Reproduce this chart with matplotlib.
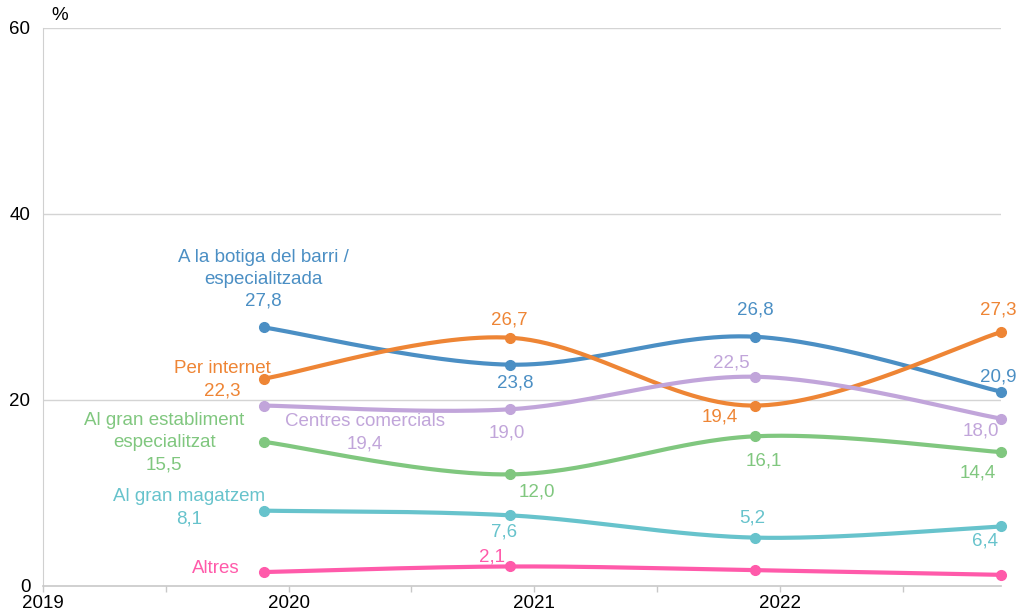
import numpy as np
import matplotlib
matplotlib.use("Agg")
import matplotlib.pyplot as plt

# ---------------- data ----------------
x_years = [2019.9, 2020.9, 2021.9, 2022.9]
tick_years = [2019, 2020, 2021, 2022]
tick_labels = ["2019", "2020", "2021", "2022"]

names = ["A la botiga del barri /\nespecialitzada", "Per internet", "Centres comercials",
         "Al gran establiment\nespecialitzat", "Al gran magatzem", "Altres"]
botiga = [27.8, 23.8, 26.8, 20.9]
internet = [22.3, 26.7, 19.4, 27.3]
centres = [19.4, 19.0, 22.5, 18.0]
establiment = [15.5, 12.0, 16.1, 14.4]
magatzem = [8.1, 7.6, 5.2, 6.4]
altres = [1.5, 2.1, 1.7, 1.2]

colors = ["#4b8fc4", "#ee8535", "#c1a5da", "#80c77f", "#67c3cc", "#ff5aaa"]
series = [botiga, internet, centres, establiment, magatzem, altres]

# which value labels are displayed (Altres only shows its 2021 value)
show_value = [
    [True, True, True, True],
    [True, True, True, True],
    [True, True, True, True],
    [True, True, True, True],
    [True, True, True, True],
    [False, True, False, False],
]
# label offsets in pixels (dx, dy) from each point
offsets = [
    [(-1, 48), (6, -18), (0, 27), (-3, 15)],
    [(-42, -1), (0, 18), (-36, -11), (-3, 22)],
    [(101, -27), (-3, -24), (-24, 14), (-20, -12)],
    [(-100, -1), (27, -18), (8, -25), (-23, -21)],
    [(-75, 3), (-6, -17), (-3, 20), (-16, -15)],
    [(-48, 4), (-18, 9), (0, 0), (0, 0)],
]


def smooth(xs, ys, n=60):
    P = np.column_stack([xs, ys]).astype(float)
    m = len(P)
    out = []
    for i in range(m - 1):
        p0 = P[max(i - 1, 0)]
        p1 = P[i]
        p2 = P[i + 1]
        p3 = P[min(i + 2, m - 1)]
        c1 = p1 + (p2 - p0) / 6.0
        c2 = p2 - (p3 - p1) / 6.0
        t = np.linspace(0, 1, n)[:, None]
        seg = ((1 - t) ** 3) * p1 + 3 * ((1 - t) ** 2) * t * c1 + 3 * (1 - t) * t ** 2 * c2 + t ** 3 * p2
        out.append(seg if i == 0 else seg[1:])
    s = np.vstack(out)
    return s[:, 0], s[:, 1]


def fmt(v):
    return f"{v:.1f}".replace(".", ",")


plt.rcParams["font.family"] = ["Liberation Sans", "DejaVu Sans"]
fig = plt.figure(figsize=(10.19, 6.11), dpi=100)
ax = fig.add_axes([43 / 1019, 25 / 611, (1001 - 43) / 1019, (586 - 28) / 611])

ax.set_xlim(2019, 2022.9)
ax.set_ylim(0, 60)

order = [5, 4, 3, 2, 0, 1]
for k in order:
    sx, sy = smooth(x_years, series[k])
    ax.plot(sx, sy, color=colors[k], lw=3.0, solid_capstyle="round", clip_on=False, zorder=3 + k * 0.1)
    ax.plot(x_years, series[k], "o", color=colors[k], ms=7, clip_on=False, zorder=3 + k * 0.1)

fs = 13.5
for k in range(len(series)):
    for i, v in enumerate(series[k]):
        if i == 0:
            txt = names[k] + "\n" + fmt(v) if show_value[k][i] else names[k]
        elif show_value[k][i]:
            txt = fmt(v)
        else:
            continue
        dx, dy = offsets[k][i]
        ax.annotate(txt, xy=(x_years[i], v), xytext=(dx, dy), textcoords="offset pixels",
                    ha="center", va="center", color=colors[k], fontsize=fs,
                    linespacing=1.38, zorder=6, annotation_clip=False)

# grid & axes styling
for yv in [20, 40, 60]:
    ax.axhline(yv, color="#d4d4d4", lw=1.0, zorder=1)
for s in ["top", "right"]:
    ax.spines[s].set_visible(False)
ax.spines["left"].set_color("#d0d0d0")
ax.spines["bottom"].set_color("#c8c8c8")
ax.spines["bottom"].set_linewidth(1.2)

ax.set_yticks([0, 20, 40, 60])
ax.set_yticklabels(["0", "20", "40", "60"])
ax.tick_params(axis="y", length=0, pad=9, labelsize=fs, labelcolor="black")

ax.set_xticks(tick_years)
ax.set_xticklabels(tick_labels)
ax.set_xticks([2019.5, 2020.5, 2021.5, 2022.5], minor=True)
ax.tick_params(axis="x", which="both", length=4, color="#c8c8c8", width=1, pad=2.5,
               labelsize=fs, labelcolor="black")

fig.text(60 / 1019, 1 - 16 / 611, "%", ha="center", va="center", fontsize=fs, color="black")

fig.savefig("out.png", dpi=100)
